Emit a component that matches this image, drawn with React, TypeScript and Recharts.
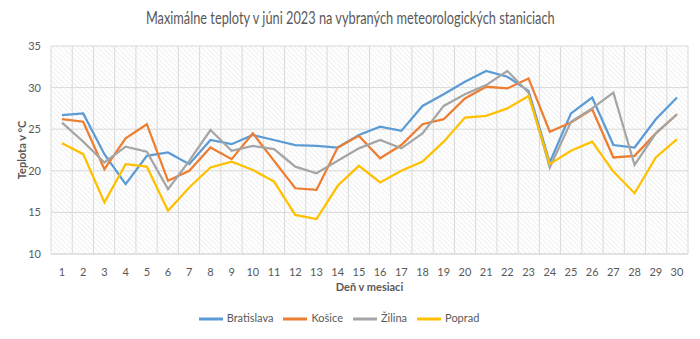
import { LineChart, Line, XAxis, YAxis, CartesianGrid, Legend } from 'recharts';

const days = [1, 2, 3, 4, 5, 6, 7, 8, 9, 10, 11, 12, 13, 14, 15, 16, 17, 18, 19, 20, 21, 22, 23, 24, 25, 26, 27, 28, 29, 30];

const bratislava = [26.7, 26.9, 22.0, 18.4, 21.8, 22.2, 20.8, 23.7, 23.2, 24.3, 23.7, 23.1, 23.0, 22.8, 24.3, 25.3, 24.8, 27.8, 29.2, 30.7, 32.0, 31.3, 29.6, 21.0, 26.9, 28.8, 23.1, 22.8, 26.2, 28.8];
const kosice = [26.2, 25.9, 20.2, 23.9, 25.6, 18.8, 20.0, 22.8, 21.4, 24.5, 21.2, 17.9, 17.7, 22.8, 24.2, 21.5, 23.1, 25.6, 26.2, 28.7, 30.1, 29.9, 31.1, 24.7, 25.8, 27.4, 21.6, 21.8, 24.5, 26.8];
const zilina = [25.8, 23.5, 21.0, 22.9, 22.3, 17.8, 21.2, 24.9, 22.4, 23.0, 22.6, 20.5, 19.7, 21.2, 22.7, 23.7, 22.7, 24.5, 27.8, 29.2, 30.3, 32.0, 29.4, 20.4, 25.9, 27.5, 29.4, 20.7, 24.5, 26.8];
const poprad = [23.3, 22.0, 16.2, 20.8, 20.5, 15.2, 18.0, 20.4, 21.1, 20.1, 18.7, 14.7, 14.2, 18.2, 20.6, 18.6, 20.0, 21.1, 23.5, 26.4, 26.6, 27.5, 29.0, 20.8, 22.4, 23.5, 19.9, 17.3, 21.6, 23.8];

const yTicks = [10, 15, 20, 25, 30, 35];
const seriesOrder = ['Bratislava', 'Košice', 'Žilina', 'Poprad'];

const data = days.map((d, i) => ({
  day: d,
  Bratislava: bratislava[i],
  'Košice': kosice[i],
  'Žilina': zilina[i],
  Poprad: poprad[i],
}));

const font = 'Lato, "Open Sans", sans-serif';
const textColor = '#595959';

export default function App() {
  return (
    <div style={{ position: 'absolute', left: 0, top: 0, width: 700, height: 339, background: '#fff', fontFamily: font }}>
      <svg width={0} height={0} style={{ position: 'absolute' }}>
        <defs>
          <pattern id="hatch" width={3.5} height={3.5} patternUnits="userSpaceOnUse" patternTransform="rotate(-45)">
            <line x1={0} y1={0} x2={0} y2={3.5} stroke="#e6e6e6" strokeWidth={1.2} />
          </pattern>
        </defs>
      </svg>
      <div style={{ position: 'absolute', top: 7, width: 700, textAlign: 'center', fontSize: 17.5, color: textColor, transform: 'scaleX(0.73)', transformOrigin: '351px 0' }}>
        Maximálne teploty v júni 2023 na vybraných meteorologických staniciach
      </div>
      <LineChart width={700} height={339} data={data} margin={{ top: 46, right: 12, left: 0, bottom: 21 }}>
        <CartesianGrid
          stroke="#d9d9d9"
          fill="url(#hatch)"
          fillOpacity={1}
          verticalCoordinatesGenerator={({ offset }: any) =>
            days.map((_, i) => offset.left + (i * offset.width) / days.length).concat(offset.left + offset.width)
          }
        />
        <XAxis
          dataKey="day"
          height={40}
          padding={{ left: 11, right: 11 }}
          tickLine={false}
          tickMargin={8}
          axisLine={{ stroke: '#d9d9d9' }}
          tick={{ fill: textColor, fontSize: 11 }}
          interval={0}
          label={{ value: 'Deň v mesiaci', position: 'insideBottom', offset: 3, fill: textColor, fontSize: 11, fontWeight: 'bold' }}
        />
        <YAxis
          width={51}
          domain={[10, 35]}
          ticks={yTicks}
          tickLine={false}
          axisLine={false}
          tickMargin={4}
          tick={{ fill: textColor, fontSize: 11 }}
          label={{ value: 'Teplota v °C', angle: -90, position: 'insideLeft', offset: 22, fill: textColor, fontSize: 11, fontWeight: 'bold', style: { textAnchor: 'middle' } }}
        />
        <Legend
          verticalAlign="bottom"
          iconSize={24}
          itemSorter={(item: any) => seriesOrder.indexOf(item.value)}
          wrapperStyle={{ fontSize: 11, color: textColor, bottom: 8 }}
          formatter={(v: string) => <span style={{ color: textColor }}>{v}</span>}
        />
        <Line type="linear" dataKey="Bratislava" stroke="#5B9BD5" strokeWidth={2.25} dot={false} legendType="plainline" isAnimationActive={false} />
        <Line type="linear" dataKey="Košice" stroke="#ED7D31" strokeWidth={2.25} dot={false} legendType="plainline" isAnimationActive={false} />
        <Line type="linear" dataKey="Žilina" stroke="#A5A5A5" strokeWidth={2.25} dot={false} legendType="plainline" isAnimationActive={false} />
        <Line type="linear" dataKey="Poprad" stroke="#FFC000" strokeWidth={2.25} dot={false} legendType="plainline" isAnimationActive={false} />
      </LineChart>
    </div>
  );
}
